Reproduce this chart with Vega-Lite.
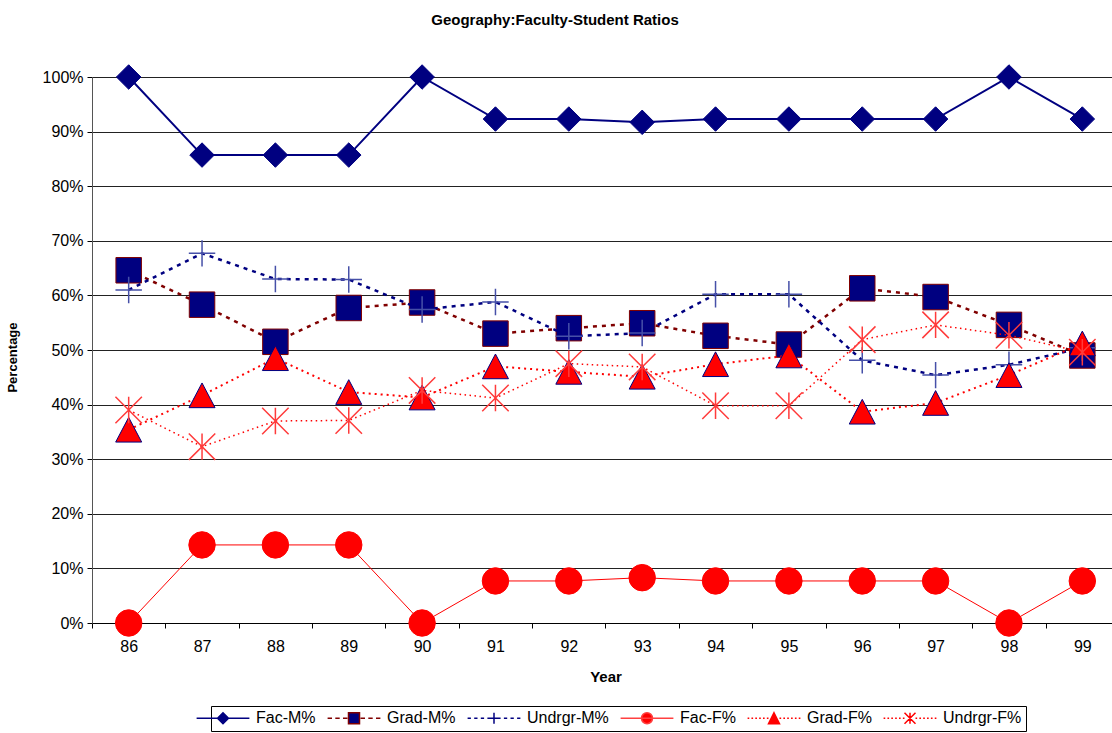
{
  "$schema": "https://vega.github.io/schema/vega-lite/v6.json",
  "width": 1020,
  "height": 546,
  "autosize": {"type": "none"},
  "padding": {"left": 92, "top": 77, "right": 0, "bottom": 110},
  "background": "white",
  "config": {"view": {"stroke": null}, "font": "Liberation Sans"},
  "title": {"text": "Geography:Faculty-Student Ratios", "font": "Liberation Sans", "fontSize": 15, "fontWeight": "bold", "color": "#000", "anchor": "middle", "frame": "group", "dx": -47, "offset": 23, "baseline": "alphabetic"},
  "data": {"values": [
    {"year": 86, "series": "Fac-M%", "value": 100}, {"year": 87, "series": "Fac-M%", "value": 85.7}, {"year": 88, "series": "Fac-M%", "value": 85.7}, {"year": 89, "series": "Fac-M%", "value": 85.7}, {"year": 90, "series": "Fac-M%", "value": 100}, {"year": 91, "series": "Fac-M%", "value": 92.3}, {"year": 92, "series": "Fac-M%", "value": 92.3}, {"year": 93, "series": "Fac-M%", "value": 91.7}, {"year": 94, "series": "Fac-M%", "value": 92.3}, {"year": 95, "series": "Fac-M%", "value": 92.3}, {"year": 96, "series": "Fac-M%", "value": 92.3}, {"year": 97, "series": "Fac-M%", "value": 92.3}, {"year": 98, "series": "Fac-M%", "value": 100}, {"year": 99, "series": "Fac-M%", "value": 92.3},
    {"year": 86, "series": "Grad-M%", "value": 64.6}, {"year": 87, "series": "Grad-M%", "value": 58.3}, {"year": 88, "series": "Grad-M%", "value": 51.5}, {"year": 89, "series": "Grad-M%", "value": 57.7}, {"year": 90, "series": "Grad-M%", "value": 58.7}, {"year": 91, "series": "Grad-M%", "value": 53.0}, {"year": 92, "series": "Grad-M%", "value": 54.0}, {"year": 93, "series": "Grad-M%", "value": 54.9}, {"year": 94, "series": "Grad-M%", "value": 52.6}, {"year": 95, "series": "Grad-M%", "value": 51.0}, {"year": 96, "series": "Grad-M%", "value": 61.3}, {"year": 97, "series": "Grad-M%", "value": 59.7}, {"year": 98, "series": "Grad-M%", "value": 54.6}, {"year": 99, "series": "Grad-M%", "value": 49.0},
    {"year": 86, "series": "Undrgr-M%", "value": 61.0}, {"year": 87, "series": "Undrgr-M%", "value": 67.7}, {"year": 88, "series": "Undrgr-M%", "value": 63.0}, {"year": 89, "series": "Undrgr-M%", "value": 62.9}, {"year": 90, "series": "Undrgr-M%", "value": 57.4}, {"year": 91, "series": "Undrgr-M%", "value": 58.8}, {"year": 92, "series": "Undrgr-M%", "value": 52.5}, {"year": 93, "series": "Undrgr-M%", "value": 53.1}, {"year": 94, "series": "Undrgr-M%", "value": 60.2}, {"year": 95, "series": "Undrgr-M%", "value": 60.2}, {"year": 96, "series": "Undrgr-M%", "value": 48.1}, {"year": 97, "series": "Undrgr-M%", "value": 45.4}, {"year": 98, "series": "Undrgr-M%", "value": 47.3}, {"year": 99, "series": "Undrgr-M%", "value": 50.4},
    {"year": 86, "series": "Fac-F%", "value": 0}, {"year": 87, "series": "Fac-F%", "value": 14.3}, {"year": 88, "series": "Fac-F%", "value": 14.3}, {"year": 89, "series": "Fac-F%", "value": 14.3}, {"year": 90, "series": "Fac-F%", "value": 0}, {"year": 91, "series": "Fac-F%", "value": 7.7}, {"year": 92, "series": "Fac-F%", "value": 7.7}, {"year": 93, "series": "Fac-F%", "value": 8.3}, {"year": 94, "series": "Fac-F%", "value": 7.7}, {"year": 95, "series": "Fac-F%", "value": 7.7}, {"year": 96, "series": "Fac-F%", "value": 7.7}, {"year": 97, "series": "Fac-F%", "value": 7.7}, {"year": 98, "series": "Fac-F%", "value": 0}, {"year": 99, "series": "Fac-F%", "value": 7.7},
    {"year": 86, "series": "Grad-F%", "value": 35.4}, {"year": 87, "series": "Grad-F%", "value": 41.7}, {"year": 88, "series": "Grad-F%", "value": 48.5}, {"year": 89, "series": "Grad-F%", "value": 42.3}, {"year": 90, "series": "Grad-F%", "value": 41.3}, {"year": 91, "series": "Grad-F%", "value": 47.0}, {"year": 92, "series": "Grad-F%", "value": 46.0}, {"year": 93, "series": "Grad-F%", "value": 45.1}, {"year": 94, "series": "Grad-F%", "value": 47.4}, {"year": 95, "series": "Grad-F%", "value": 49.0}, {"year": 96, "series": "Grad-F%", "value": 38.7}, {"year": 97, "series": "Grad-F%", "value": 40.3}, {"year": 98, "series": "Grad-F%", "value": 45.4}, {"year": 99, "series": "Grad-F%", "value": 51.2},
    {"year": 86, "series": "Undrgr-F%", "value": 39.0}, {"year": 87, "series": "Undrgr-F%", "value": 32.3}, {"year": 88, "series": "Undrgr-F%", "value": 37.0}, {"year": 89, "series": "Undrgr-F%", "value": 37.1}, {"year": 90, "series": "Undrgr-F%", "value": 42.6}, {"year": 91, "series": "Undrgr-F%", "value": 41.2}, {"year": 92, "series": "Undrgr-F%", "value": 47.5}, {"year": 93, "series": "Undrgr-F%", "value": 46.9}, {"year": 94, "series": "Undrgr-F%", "value": 39.8}, {"year": 95, "series": "Undrgr-F%", "value": 39.8}, {"year": 96, "series": "Undrgr-F%", "value": 51.9}, {"year": 97, "series": "Undrgr-F%", "value": 54.6}, {"year": 98, "series": "Undrgr-F%", "value": 52.7}, {"year": 99, "series": "Undrgr-F%", "value": 49.6}
  ]},
  "encoding": {
    "x": {"field": "year", "type": "quantitative",
      "scale": {"domain": [85.5, 99.5], "range": [0, 1027], "nice": false, "zero": false},
      "axis": {"values": [86, 87, 88, 89, 90, 91, 92, 93, 94, 95, 96, 97, 98, 99], "format": "d", "grid": false,
        "tickOffset": -36.7, "labelOffset": 36.7, "labelFlush": false, "labelOverlap": false,
        "domainColor": "#000", "tickColor": "#000", "tickSize": 5, "labelFontSize": 16, "labelColor": "#000", "labelPadding": 10,
        "title": "Year", "titleFontSize": 15, "titleFontWeight": "bold", "titleColor": "#000", "titlePadding": 15}},
    "y": {"field": "value", "type": "quantitative",
      "scale": {"domain": [0, 100], "nice": false},
      "axis": {"values": [0, 10, 20, 30, 40, 50, 60, 70, 80, 90, 100], "labelExpr": "datum.value + '%'", "grid": true,
        "gridColor": "#222", "gridWidth": 1, "domainColor": "#555", "tickColor": "#000", "tickSize": 5,
        "labelFontSize": 16, "labelColor": "#000", "labelPadding": 4,
        "title": "Percentage", "titleFontSize": 13, "titleFontWeight": "bold", "titleColor": "#000",
        "titleX": -73, "titleY": 280, "titleAngle": 270, "titleBaseline": "bottom", "titleAlign": "center"}}
  },
  "layer": [
    {"transform": [{"filter": "datum.series === 'Fac-M%'"}], "mark": {"type": "line", "stroke": "#000080", "strokeWidth": 2}},
    {"transform": [{"filter": "datum.series === 'Fac-M%'"}], "mark": {"type": "point", "shape": "diamond", "filled": true, "fill": "#000080", "stroke": "#000080", "strokeWidth": 1, "size": 600, "opacity": 1}},
    {"transform": [{"filter": "datum.series === 'Grad-M%'"}], "mark": {"type": "line", "stroke": "#800000", "strokeWidth": 2.5, "strokeDash": [4, 5]}},
    {"transform": [{"filter": "datum.series === 'Grad-M%'"}], "mark": {"type": "point", "shape": "square", "filled": true, "fill": "#000080", "stroke": "#800000", "strokeWidth": 1, "size": 650, "opacity": 1}},
    {"transform": [{"filter": "datum.series === 'Undrgr-M%'"}], "mark": {"type": "line", "stroke": "#000080", "strokeWidth": 2.5, "strokeDash": [4, 5]}},
    {"transform": [{"filter": "datum.series === 'Undrgr-M%'"}], "mark": {"type": "point", "shape": "M-1,0H1M0,-1V1", "filled": false, "fill": "transparent", "stroke": "#4650a8", "strokeWidth": 1.5, "size": 700, "opacity": 1}},
    {"transform": [{"filter": "datum.series === 'Fac-F%'"}], "mark": {"type": "line", "stroke": "#ff0000", "strokeWidth": 1}},
    {"transform": [{"filter": "datum.series === 'Fac-F%'"}], "mark": {"type": "point", "shape": "circle", "filled": true, "fill": "#ff0000", "stroke": "#ff0000", "strokeWidth": 1, "size": 700, "opacity": 1}},
    {"transform": [{"filter": "datum.series === 'Grad-F%'"}], "mark": {"type": "line", "stroke": "#ff0000", "strokeWidth": 2, "strokeDash": [2, 4]}},
    {"transform": [{"filter": "datum.series === 'Grad-F%'"}], "mark": {"type": "point", "shape": "M0,-0.95L1,0.95L-1,0.95Z", "filled": true, "fill": "#ff0000", "stroke": "#000080", "strokeWidth": 1, "size": 676, "opacity": 1}},
    {"transform": [{"filter": "datum.series === 'Undrgr-F%'"}], "mark": {"type": "line", "stroke": "#ff0000", "strokeWidth": 1.5, "strokeDash": [1.5, 3.5]}},
    {"transform": [{"filter": "datum.series === 'Undrgr-F%'"}], "mark": {"type": "point", "shape": "M-1,-1L1,1M-1,1L1,-1M0,-1V1", "filled": false, "fill": "transparent", "stroke": "#ff3b3b", "strokeWidth": 1.5, "size": 700, "opacity": 1}},
    {"mark": {"type": "point", "filled": true, "opacity": 0},
      "encoding": {
        "shape": {"field": "series", "type": "nominal",
          "scale": {"domain": ["Fac-M%", "Grad-M%", "Undrgr-M%", "Fac-F%", "Grad-F%", "Undrgr-F%"],
            "range": [
              "M-5.9,0M-4.8,0H4.8M-1,0L0,-1L1,0L0,1Z",
              "M-5.9,0M-4.8,0H-4M-3.4,0H-2.6M-2,0H-1.2M1.2,0H2M2.6,0H3.4M4,0H4.8M-1,-1H1V1H-1Z",
              "M-5.9,0M-4.8,0H-4.2M-3.6,0H-3M-2.4,0H-1.8M1.8,0H2.4M3,0H3.6M4.2,0H4.8M-1.2,0H1.2M0,-1V1",
              "M-5.9,0M-4.8,0H4.8M-1,0A1,1,0,1,0,1,0A1,1,0,1,0,-1,0Z",
              "M-5.9,0M-4.8,0H-4.5M-4.1,0H-3.8M-3.4,0H-3.1M-2.7,0H-2.4M-2,0H-1.7M-1.3,0H-1M1,0H1.3M1.7,0H2M2.4,0H2.7M3.1,0H3.4M3.8,0H4.1M4.5,0H4.8M0,-1L1,1H-1Z",
              "M-5.9,0M-4.8,0H-4.5M-4.1,0H-3.8M-3.4,0H-3.1M-2.7,0H-2.4M-2,0H-1.7M-1.3,0H-1M1,0H1.3M1.7,0H2M2.4,0H2.7M3.1,0H3.4M3.8,0H4.1M4.5,0H4.8M-1,-1L1,1M-1,1L1,-1M0,-1V1"
            ]},
          "legend": {"title": null, "orient": "none", "legendX": 119, "legendY": 629, "direction": "horizontal", "columns": 6,
            "symbolSize": 121, "symbolStrokeWidth": 1.5, "symbolOpacity": 1, "labelFontSize": 16, "labelColor": "#000", "labelFont": "Liberation Sans",
            "labelOffset": 25, "columnPadding": 2, "padding": 4, "strokeColor": "#000", "fillColor": "#fff"}},
        "fill": {"field": "series", "type": "nominal",
          "scale": {"domain": ["Fac-M%", "Grad-M%", "Undrgr-M%", "Fac-F%", "Grad-F%", "Undrgr-F%"],
            "range": ["#000080", "#000080", "transparent", "#ff0000", "#ff0000", "transparent"]},
          "legend": {"title": null, "orient": "none", "legendX": 119, "legendY": 629, "direction": "horizontal", "columns": 6,
            "symbolSize": 121, "symbolStrokeWidth": 1.5, "symbolOpacity": 1, "labelFontSize": 16, "labelColor": "#000", "labelFont": "Liberation Sans",
            "labelOffset": 25, "columnPadding": 2, "padding": 4, "strokeColor": "#000", "fillColor": "#fff"}},
        "stroke": {"field": "series", "type": "nominal",
          "scale": {"domain": ["Fac-M%", "Grad-M%", "Undrgr-M%", "Fac-F%", "Grad-F%", "Undrgr-F%"],
            "range": ["#000080", "#800000", "#000080", "#ff4040", "#ff0000", "#ff0000"]},
          "legend": {"title": null, "orient": "none", "legendX": 119, "legendY": 629, "direction": "horizontal", "columns": 6,
            "symbolSize": 121, "symbolStrokeWidth": 1.5, "symbolOpacity": 1, "labelFontSize": 16, "labelColor": "#000", "labelFont": "Liberation Sans",
            "labelOffset": 25, "columnPadding": 2, "padding": 4, "strokeColor": "#000", "fillColor": "#fff"}}
      }}
  ]
}
